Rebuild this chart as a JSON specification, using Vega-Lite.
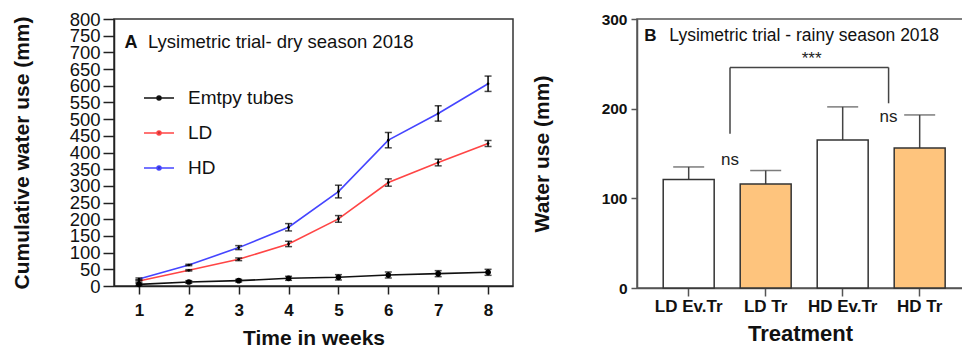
{
  "$schema": "https://vega.github.io/schema/vega-lite/v6.json",
  "background": "white",
  "padding": {"left": 10, "top": 9, "right": 0, "bottom": 0},
  "spacing": 124,
  "bounds": "flush",
  "config": {
    "font": "Liberation Sans",
    "axis": {"grid": false, "domainColor": "#222", "domainWidth": 1.5, "tickColor": "#222", "tickWidth": 1.5, "labelColor": "#111", "titleColor": "#111", "labelOverlap": false, "labelFlush": false}
  },
  "hconcat": [
    {
      "width": 399,
      "height": 267,
      "view": {"stroke": "#333", "strokeWidth": 1.5},
      "data": {
        "values": [
          {"week": 1, "series": "Emtpy tubes", "value": 5, "err": 3},
          {"week": 2, "series": "Emtpy tubes", "value": 12, "err": 4},
          {"week": 3, "series": "Emtpy tubes", "value": 16, "err": 4},
          {"week": 4, "series": "Emtpy tubes", "value": 23, "err": 6},
          {"week": 5, "series": "Emtpy tubes", "value": 26, "err": 8},
          {"week": 6, "series": "Emtpy tubes", "value": 33, "err": 9},
          {"week": 7, "series": "Emtpy tubes", "value": 37, "err": 9},
          {"week": 8, "series": "Emtpy tubes", "value": 41, "err": 9},
          {"week": 1, "series": "LD", "value": 15, "err": 3},
          {"week": 2, "series": "LD", "value": 47, "err": 2},
          {"week": 3, "series": "LD", "value": 80, "err": 4},
          {"week": 4, "series": "LD", "value": 126, "err": 8},
          {"week": 5, "series": "LD", "value": 201, "err": 10},
          {"week": 6, "series": "LD", "value": 310, "err": 11},
          {"week": 7, "series": "LD", "value": 370, "err": 10},
          {"week": 8, "series": "LD", "value": 427, "err": 9},
          {"week": 1, "series": "HD", "value": 21, "err": 3},
          {"week": 2, "series": "HD", "value": 63, "err": 2},
          {"week": 3, "series": "HD", "value": 115, "err": 6},
          {"week": 4, "series": "HD", "value": 176, "err": 11},
          {"week": 5, "series": "HD", "value": 283, "err": 19},
          {"week": 6, "series": "HD", "value": 437, "err": 23},
          {"week": 7, "series": "HD", "value": 517, "err": 23},
          {"week": 8, "series": "HD", "value": 606, "err": 23}
        ]
      },
      "layer": [
        {
          "encoding": {
            "x": {
              "field": "week", "type": "quantitative",
              "scale": {"domain": [0.5, 8.5], "nice": false, "zero": false},
              "axis": {"values": [1, 2, 3, 4, 5, 6, 7, 8], "format": "d", "title": "Time in weeks", "labelFontSize": 17, "labelFontWeight": "bold", "titleFontSize": 21, "titleFontWeight": "bold", "tickSize": 8, "labelPadding": 8, "titlePadding": 9}
            },
            "y": {
              "field": "value", "type": "quantitative",
              "scale": {"domain": [0, 800], "nice": false},
              "axis": {"values": [0, 50, 100, 150, 200, 250, 300, 350, 400, 450, 500, 550, 600, 650, 700, 750, 800], "title": "Cumulative water use (mm)", "labelFontSize": 18.5, "titleFontSize": 21, "titleFontWeight": "bold", "tickSize": 11, "labelPadding": 3, "titlePadding": 37}
            }
          },
          "layer": [
            {
              "mark": {"type": "line", "strokeWidth": 1.6},
              "encoding": {
                "color": {
                  "field": "series", "type": "nominal",
                  "scale": {"domain": ["Emtpy tubes", "LD", "HD"], "range": ["#111111", "#FF4545", "#4545FF"]},
                  "legend": {
                    "title": null, "orient": "none", "legendX": 29, "legendY": 63,
                    "labelFontSize": 19, "labelColor": "#111", "labelOffset": 13,
                    "symbolType": "M-1,0H1M0.13,0A0.13,0.13,0,1,1,-0.13,0A0.13,0.13,0,1,1,0.13,0",
                    "symbolSize": 900, "symbolStrokeWidth": 1.6, "symbolFillColor": "black", "rowPadding": 9,
                    "encode": {"symbols": {"update": {"fill": {"value": "black"}}}}
                  }
                }
              }
            },
            {
              "mark": {"type": "errorbar", "color": "black", "thickness": 1.5, "ticks": {"size": 7}},
              "encoding": {"yError": {"field": "err"}}
            },
            {
              "mark": {"type": "point", "filled": true, "color": "black", "opacity": 1},
              "encoding": {
                "size": {"condition": {"test": "datum.series === 'Emtpy tubes'", "value": 32}, "value": 7}
              }
            }
          ]
        },
        {
          "transform": [{"aggregate": [{"op": "count", "as": "n"}]}],
          "encoding": {
            "y": {
              "datum": 714, "type": "quantitative",
              "axis": {"values": [0, 50, 100, 150, 200, 250, 300, 350, 400, 450, 500, 550, 600, 650, 700, 750, 800], "title": "Cumulative water use (mm)", "labelFontSize": 18.5, "titleFontSize": 21, "titleFontWeight": "bold", "tickSize": 11, "labelPadding": 3, "titlePadding": 37}
            }
          },
          "layer": [
            {
              "mark": {"type": "text", "text": "A", "fontSize": 18, "fontWeight": "bold", "align": "left", "baseline": "alphabetic", "color": "#111"},
              "encoding": {"x": {"datum": 0.71, "type": "quantitative"}}
            },
            {
              "mark": {"type": "text", "text": "Lysimetric trial- dry season 2018", "fontSize": 18.5, "align": "left", "baseline": "alphabetic", "color": "#111"},
              "encoding": {"x": {"datum": 1.18, "type": "quantitative"}}
            }
          ]
        }
      ]
    },
    {
      "width": 326,
      "height": 269,
      "view": {"stroke": "#555", "strokeWidth": 1.5},
      "data": {
        "values": [
          {"treatment": "LD Ev.Tr", "kind": "Ev.Tr", "value": 121, "err": 14},
          {"treatment": "LD Tr", "kind": "Tr", "value": 116, "err": 15},
          {"treatment": "HD Ev.Tr", "kind": "Ev.Tr", "value": 165, "err": 37},
          {"treatment": "HD Tr", "kind": "Tr", "value": 156, "err": 37}
        ]
      },
      "layer": [
        {
          "encoding": {
            "x": {
              "field": "treatment", "type": "nominal", "sort": null,
              "scale": {"domain": ["LD Ev.Tr", "LD Tr", "HD Ev.Tr", "HD Tr"], "paddingInner": 0.338, "paddingOuter": 0.286, "align": 0.595},
              "axis": {"title": "Treatment", "labelAngle": 0, "labelFontSize": 17, "labelFontWeight": "bold", "titleFontSize": 22, "titleFontWeight": "bold", "tickSize": 8, "labelPadding": 2, "titlePadding": 9, "domainColor": "#555", "tickColor": "#555"}
            },
            "y": {
              "field": "value", "type": "quantitative",
              "scale": {"domain": [0, 300], "nice": false},
              "axis": {"values": [0, 100, 200, 300], "title": "Water use (mm)", "labelFontSize": 15.5, "labelFontWeight": "bold", "titleFontSize": 21, "titleFontWeight": "bold", "tickSize": 6, "labelPadding": 4, "titlePadding": 49, "domainColor": "#555", "tickColor": "#555"}
            }
          },
          "layer": [
            {
              "mark": {"type": "errorbar", "color": "#444", "thickness": 1.5, "ticks": {"size": 31}},
              "encoding": {"yError": {"field": "err"}}
            },
            {
              "mark": {"type": "bar", "stroke": "#333", "strokeWidth": 1.5},
              "encoding": {
                "fill": {"field": "kind", "type": "nominal", "scale": {"domain": ["Ev.Tr", "Tr"], "range": ["white", "#FEC47D"]}, "legend": null}
              }
            }
          ]
        },
        {
          "transform": [{"aggregate": [{"op": "count", "as": "n"}]}],
          "mark": {"type": "rule", "color": "#444", "strokeWidth": 1.5},
          "encoding": {
            "x": {"datum": "LD Tr", "type": "nominal", "bandPosition": -0.2},
            "y": {"datum": 172, "type": "quantitative"},
            "y2": {"datum": 246}
          }
        },
        {
          "transform": [{"aggregate": [{"op": "count", "as": "n"}]}],
          "mark": {"type": "rule", "color": "#444", "strokeWidth": 1.5},
          "encoding": {
            "x": {"datum": "LD Tr", "type": "nominal", "bandPosition": -0.2},
            "x2": {"datum": "HD Tr", "bandPosition": -0.11},
            "y": {"datum": 246, "type": "quantitative"}
          }
        },
        {
          "transform": [{"aggregate": [{"op": "count", "as": "n"}]}],
          "mark": {"type": "rule", "color": "#444", "strokeWidth": 1.5},
          "encoding": {
            "x": {"datum": "HD Tr", "type": "nominal", "bandPosition": -0.11},
            "y": {"datum": 206, "type": "quantitative"},
            "y2": {"datum": 246}
          }
        },
        {
          "transform": [{"aggregate": [{"op": "count", "as": "n"}]}],
          "mark": {"type": "text", "text": "ns", "fontSize": 17, "align": "center", "baseline": "middle", "color": "#222"},
          "encoding": {"x": {"datum": "LD Tr", "type": "nominal", "bandPosition": -0.2}, "y": {"datum": 143, "type": "quantitative"}}
        },
        {
          "transform": [{"aggregate": [{"op": "count", "as": "n"}]}],
          "mark": {"type": "text", "text": "ns", "fontSize": 17, "align": "center", "baseline": "middle", "color": "#222"},
          "encoding": {"x": {"datum": "HD Tr", "type": "nominal", "bandPosition": -0.11}, "y": {"datum": 191, "type": "quantitative"}}
        },
        {
          "transform": [{"aggregate": [{"op": "count", "as": "n"}]}],
          "mark": {"type": "text", "text": "***", "fontSize": 17, "align": "center", "baseline": "alphabetic", "color": "#222"},
          "encoding": {"x": {"datum": "HD Ev.Tr", "type": "nominal", "bandPosition": -0.11}, "y": {"datum": 250, "type": "quantitative"}}
        },
        {
          "transform": [{"aggregate": [{"op": "count", "as": "n"}]}],
          "mark": {"type": "text", "text": "B", "fontSize": 17, "fontWeight": "bold", "align": "left", "baseline": "alphabetic", "color": "#111"},
          "encoding": {"x": {"datum": "LD Ev.Tr", "type": "nominal", "bandPosition": -0.37}, "y": {"datum": 275, "type": "quantitative"}}
        },
        {
          "transform": [{"aggregate": [{"op": "count", "as": "n"}]}],
          "mark": {"type": "text", "text": "Lysimetric trial - rainy season 2018", "fontSize": 17.5, "align": "left", "baseline": "alphabetic", "color": "#111"},
          "encoding": {"x": {"datum": "LD Ev.Tr", "type": "nominal", "bandPosition": 0.12}, "y": {"datum": 275, "type": "quantitative"}}
        }
      ]
    }
  ]
}
